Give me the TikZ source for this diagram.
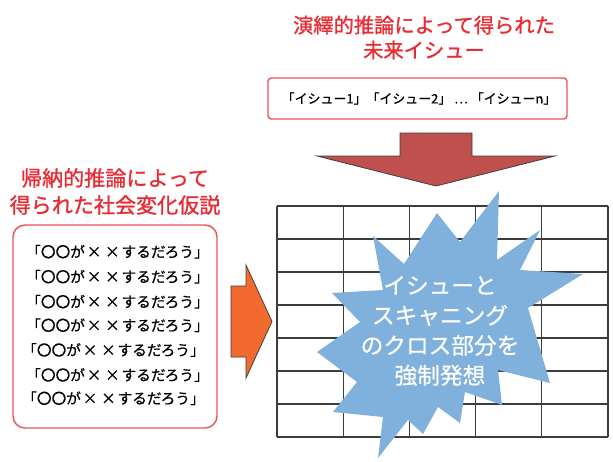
\documentclass[tikz,border=0pt]{standalone}
\usepackage{fontspec}
\setmainfont{Noto Sans CJK JP}
\newfontfamily\medfont[FakeBold=1.2]{Noto Sans CJK JP}
\newfontfamily\semifont[FakeBold=0.6]{Noto Sans CJK JP}
\definecolor{titlered}{RGB}{232,44,52}
\definecolor{boxred}{RGB}{238,82,86}
\definecolor{gridgray}{RGB}{60,60,60}
\definecolor{starblue}{RGB}{128,176,220}
\definecolor{downred}{RGB}{192,80,77}
\definecolor{arroworange}{RGB}{242,106,46}
\newcommand{\xx}{\makebox[1.25em]{×}}
\begin{document}
\begin{tikzpicture}[x=0.75pt,y=-0.75pt,
  titletext/.style={text=titlered,align=center,inner sep=0pt},
  listitem/.style={anchor=west,font=\semifont\fontsize{11}{13}\selectfont,inner sep=0pt},
  redbox/.style={draw=boxred,line width=1.1pt},
  gridline/.style={draw=gridgray,line width=0.8pt},
  bigarrow/.style={draw=black!75,line width=0.6pt,line join=miter},
  startext/.style={text=white,align=center,inner sep=0pt,font=\semifont\fontsize{17}{22.5}\selectfont}
  ]
\useasboundingbox (0,0) rectangle (613,461);

% top title
\node[titletext,font=\medfont\fontsize{15.2}{18.75}\selectfont] (toptitle) at (424,37.5)
  {演繹的推論によって得られた\\未来イシュー};

% top box
\draw[redbox,rounded corners=2.5pt] (268,78) rectangle (567,119);
\node[inner sep=0pt,font=\semifont\fontsize{9.7}{12}\selectfont] (issues) at (419,98.5)
  {「イシュー1」「イシュー2」 … 「イシューn」};

% down arrow
\draw[bigarrow,fill=downred] (400,133) -- (472,133) -- (472,156) -- (555,156)
  -- (436,186) -- (317,156) -- (400,156) -- cycle;

% left title
\node[titletext,font=\medfont\fontsize{15.8}{20.25}\selectfont] (lefttitle) at (115,191.5)
  {帰納的推論によって\\得られた社会変化仮説};

% left box
\draw[redbox,rounded corners=9pt] (13,225) rectangle (217,428);
\foreach \yy/\xs [count=\i] in {251.7/26,276.7/26,301.7/26,325.3/26,350/22,375/26,398.3/22}{
  \node[listitem] (hyp\i) at (\xs,\yy) {「〇〇が\xx\xx するだろう」};
}

% left arrow
\draw[bigarrow,fill=arroworange] (231,286) -- (246,286) -- (246,265) -- (272,321.5)
  -- (246,378) -- (246,357) -- (231,357) -- cycle;

% grid
\foreach \gx in {277,343.2,409.4,475.6,541.8,608}{
  \draw[gridline] (\gx,206) -- (\gx,437);
}
\foreach \gy in {206,239,272,305,338,371,404,437}{
  \draw[gridline] (277,\gy) -- (608,\gy);
}

% star
\fill[starblue] (499,191) -- (497,260) -- (540,230) -- (520,270) -- (583,274)
  -- (528,308) -- (550,383) -- (498,370) -- (502,405) -- (465,392) -- (460,423)
  -- (438,407) -- (423,434) -- (408,420) -- (378,458) -- (383,417) -- (333,412)
  -- (357,382) -- (317,352) -- (360,322) -- (332,293) -- (383,290) -- (373,236)
  -- (404,264) -- (437,213) -- (460,242) -- cycle;
\node[startext] (startxt) at (440,331)
  {イシューと\\スキャニング\\のクロス部分を\\強制発想};
\end{tikzpicture}
\end{document}
